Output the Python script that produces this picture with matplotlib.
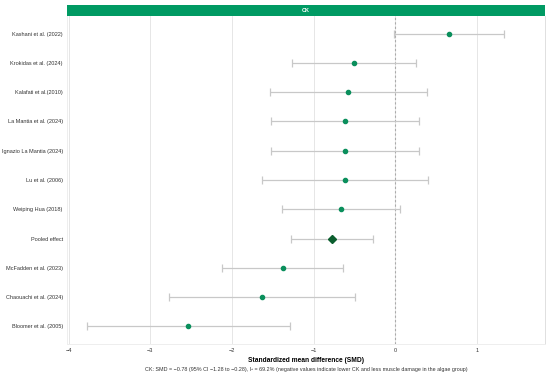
import matplotlib.pyplot as plt

plt.rcParams["font.family"] = ["Liberation Sans", "DejaVu Sans"]

studies = [
    "Kashani et al. (2022)",
    "Krokidas et al. (2024)",
    "Kalafati et al.(2010)",
    "La Mantia et al. (2024)",
    "Ignazio La Mantia (2024)",
    "Lu et al. (2006)",
    "Weiping Hua (2018)",
    "Pooled effect",
    "McFadden et al. (2023)",
    "Chaouachi et al. (2024)",
    "Bloomer et al. (2005)",
]
smd = [0.65, -0.51, -0.575, -0.62, -0.62, -0.62, -0.67, -0.78, -1.38, -1.63, -2.54]
ci_low = [-0.02, -1.27, -1.54, -1.52, -1.52, -1.63, -1.39, -1.28, -2.12, -2.77, -3.77]
ci_high = [1.33, 0.25, 0.38, 0.29, 0.29, 0.40, 0.05, -0.28, -0.64, -0.49, -1.29]
x_ticks = [-4, -3, -2, -1, 0, 1]

GREEN = "#0a8f5c"
DARK = "#0b5e2e"

fig = plt.figure(figsize=(5.5, 3.77), dpi=100)
ax = fig.add_axes([67 / 550, 33 / 377, 478 / 550, 328 / 377])

n = len(studies)
ys = list(range(n))[::-1]

for y, name, m, lo, hi in zip(ys, studies, smd, ci_low, ci_high):
    ax.errorbar([m], [y], xerr=[[m - lo], [hi - m]], fmt="none",
                ecolor="#c8c8c8", elinewidth=0.9, capsize=3, capthick=0.9, zorder=2)
    if name == "Pooled effect":
        ax.plot(m, y, marker="D", color=DARK, markersize=4.2, zorder=3)
    else:
        ax.plot(m, y, marker="o", color=GREEN, markersize=3, zorder=3)

ax.axvline(0, color="#aaaaaa", linestyle=(0, (2, 2)), linewidth=0.8, zorder=1)

ax.set_xlim(-4.02, 1.83)
ax.set_ylim(-0.6, n - 0.4)
ax.set_yticks(ys)
ax.set_yticklabels(studies, fontsize=4.0, color="#333333")
ax.set_xticks(x_ticks)
ax.set_xticklabels(["\u22124", "\u22123", "\u22122", "\u22121", "0", "1"],
                   fontsize=4.0, color="#333333")
ax.tick_params(length=0, pad=3)
ax.grid(axis="x", color="#e6e6e6", linewidth=0.7)
ax.set_axisbelow(True)
ax.spines["top"].set_visible(False)
ax.spines["right"].set_color("#e0e0e0")
ax.spines["right"].set_linewidth(0.7)
ax.spines["left"].set_color("#eeeeee")
ax.spines["left"].set_linewidth(0.7)
ax.spines["bottom"].set_color("#eeeeee")
ax.spines["bottom"].set_linewidth(0.7)

ax.set_xlabel("Standardized mean difference (SMD)", fontsize=4.8, fontweight="bold",
              labelpad=3)

# strip header
strip = fig.add_axes([67 / 550, 361 / 377, 478 / 550, 11 / 377])
strip.set_facecolor("#009a63")
strip.set_xticks([])
strip.set_yticks([])
for s in strip.spines.values():
    s.set_visible(False)
strip.text(0.5, 0.5, "CK", color="white", fontsize=4.0, fontweight="bold",
           ha="center", va="center", transform=strip.transAxes)

fig.text(306 / 550, 7 / 377,
         "CK: SMD = \u22120.78 (95% CI \u22121.28 to \u22120.28), I\u00b2 = 69.2% "
         "(negative values indicate lower CK and less muscle damage in the algae group)",
         fontsize=3.9, color="#333333", ha="center", va="center")

fig.savefig("out.png", dpi=100)
